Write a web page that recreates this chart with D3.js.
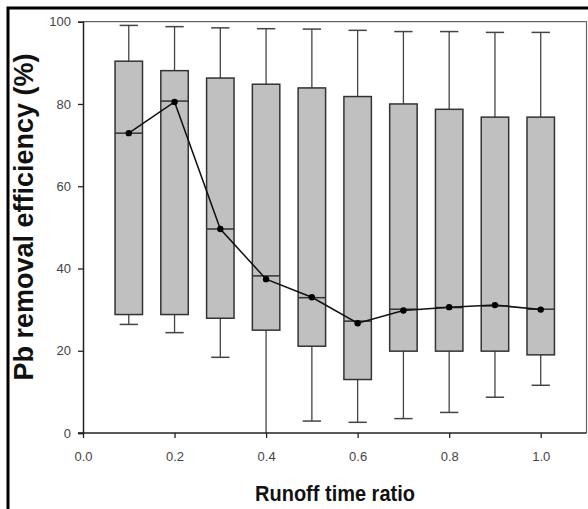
<!DOCTYPE html>
<html>
<head>
<meta charset="utf-8">
<script src="https://cdn.jsdelivr.net/npm/d3@7"></script>
<style>
  body { margin: 0; background: #fff; }
  svg { display: block; font-family: "Liberation Sans", Arial, sans-serif; }
</style>
</head>
<body>
<div id="chart"></div>
<script>
// runoff time ratio of each box
var ratio = [0.1, 0.2, 0.3, 0.4, 0.5, 0.6, 0.7, 0.8, 0.9, 1.0];
// box plot values (%)
var whiskerHigh = [99.1, 98.8, 98.5, 98.3, 98.2, 97.9, 97.6, 97.6, 97.4, 97.4];
var q3 = [90.4, 88.1, 86.3, 84.8, 83.9, 81.8, 80.0, 78.7, 76.8, 76.8];
var median = [72.9, 80.7, 49.6, 38.2, 32.9, 27.2, 30.1, 30.5, 30.9, 30.1];
var q1 = [28.8, 28.8, 27.9, 25.0, 21.1, 13.0, 19.9, 19.9, 19.9, 19.0];
var whiskerLow = [26.4, 24.4, 18.4, 0, 2.9, 2.6, 3.5, 5.0, 8.7, 11.6];
var mean = [72.9, 80.5, 49.6, 37.4, 33.0, 26.7, 29.8, 30.6, 31.1, 30.0];
var xTicks = [0, 0.2, 0.4, 0.6, 0.8, 1.0];
var yTicks = [0, 20, 40, 60, 80, 100];

var width = 588, height = 509;

var svg = d3.select("#chart").append("svg")
    .attr("width", width)
    .attr("height", height);

//outer black frame (only left and top show, the rest is cropped)
svg.append("rect")
    .attr("x", 8).attr("y", 8)
    .attr("width", 600).attr("height", 520)
    .attr("fill", "none")
    .attr("stroke", "#000")
    .attr("stroke-width", 3);

var x = d3.scaleLinear().domain([0, 1.1]).range([83, 586.5]);
var y = d3.scaleLinear().domain([0, 100]).range([433, 21.7]);

var boxW = x(0.06) - x(0);
var capW = x(0.04) - x(0);

var rows = ratio.map(function(r, i) {
    return { r: r, hi: whiskerHigh[i], q3: q3[i], med: median[i], q1: q1[i], lo: whiskerLow[i], mean: mean[i] };
});

//plot frame top & right
svg.append("path")
    .attr("d", "M" + x(0) + "," + y(100) + "H" + x(1.1) + "V" + y(0))
    .attr("fill", "none")
    .attr("stroke", "#666")
    .attr("stroke-width", 1.2);

var box = svg.append("g").selectAll("g")
    .data(rows)
    .enter().append("g");

//whiskers
box.append("line")
    .attr("x1", function(d) { return x(d.r); })
    .attr("x2", function(d) { return x(d.r); })
    .attr("y1", function(d) { return y(d.hi); })
    .attr("y2", function(d) { return y(d.lo); })
    .attr("stroke", "#444").attr("stroke-width", 1.3);

box.selectAll(".cap")
    .data(function(d) { return d.lo > 0 ? [[d.r, d.hi], [d.r, d.lo]] : [[d.r, d.hi]]; })
    .enter().append("line")
    .attr("x1", function(c) { return x(c[0]) - capW / 2; })
    .attr("x2", function(c) { return x(c[0]) + capW / 2; })
    .attr("y1", function(c) { return y(c[1]); })
    .attr("y2", function(c) { return y(c[1]); })
    .attr("stroke", "#444").attr("stroke-width", 1.5);

//the boxes
box.append("rect")
    .attr("x", function(d) { return x(d.r) - boxW / 2; })
    .attr("y", function(d) { return y(d.q3); })
    .attr("width", boxW)
    .attr("height", function(d) { return y(d.q1) - y(d.q3); })
    .attr("fill", "#c0c0c0")
    .attr("stroke", "#333").attr("stroke-width", 1.5);

box.append("line")
    .attr("x1", function(d) { return x(d.r) - boxW / 2; })
    .attr("x2", function(d) { return x(d.r) + boxW / 2; })
    .attr("y1", function(d) { return y(d.med); })
    .attr("y2", function(d) { return y(d.med); })
    .attr("stroke", "#333").attr("stroke-width", 1.5);

//mean line with dots
svg.append("path")
    .datum(rows)
    .attr("d", d3.line().x(function(d) { return x(d.r); }).y(function(d) { return y(d.mean); }))
    .attr("fill", "none")
    .attr("stroke", "#111").attr("stroke-width", 1.5);

svg.append("g").selectAll("circle")
    .data(rows)
    .enter().append("circle")
    .attr("cx", function(d) { return x(d.r); })
    .attr("cy", function(d) { return y(d.mean); })
    .attr("r", 3.2)
    .attr("fill", "#000");

//axes
var xAxis = svg.append("g")
    .attr("transform", "translate(0," + y(0) + ")")
    .call(d3.axisBottom(x).tickValues(xTicks).tickSize(5).tickPadding(14).tickFormat(d3.format(".1f")));

var yAxis = svg.append("g")
    .attr("transform", "translate(" + x(0) + ",0)")
    .call(d3.axisLeft(y).tickValues(yTicks).tickSize(5).tickPadding(7));

[xAxis, yAxis].forEach(function(a) {
    a.select(".domain").attr("stroke", "#222").attr("stroke-width", 1.5);
    a.selectAll(".tick line").attr("stroke", "#222").attr("stroke-width", 1.3);
    a.selectAll("text")
        .attr("fill", "#444")
        .style("font-size", "13px");
});
// x axis line reaches out to the y tick
xAxis.select(".domain").attr("d", "M" + (x(0) - 5) + ",0H" + x(1.1));

//axis titles
svg.append("text")
    .attr("transform", "translate(335,501) scale(1,1.12)")
    .attr("text-anchor", "middle")
    .attr("fill", "#111")
    .style("font-size", "20px")
    .style("font-weight", "bold")
    .text("Runoff time ratio");

svg.append("text")
    .attr("transform", "translate(33,217) rotate(-90)")
    .attr("text-anchor", "middle")
    .attr("fill", "#111")
    .style("font-size", "27px")
    .style("font-weight", "bold")
    .text("Pb removal efficiency (%)");
</script>
</body>
</html>
